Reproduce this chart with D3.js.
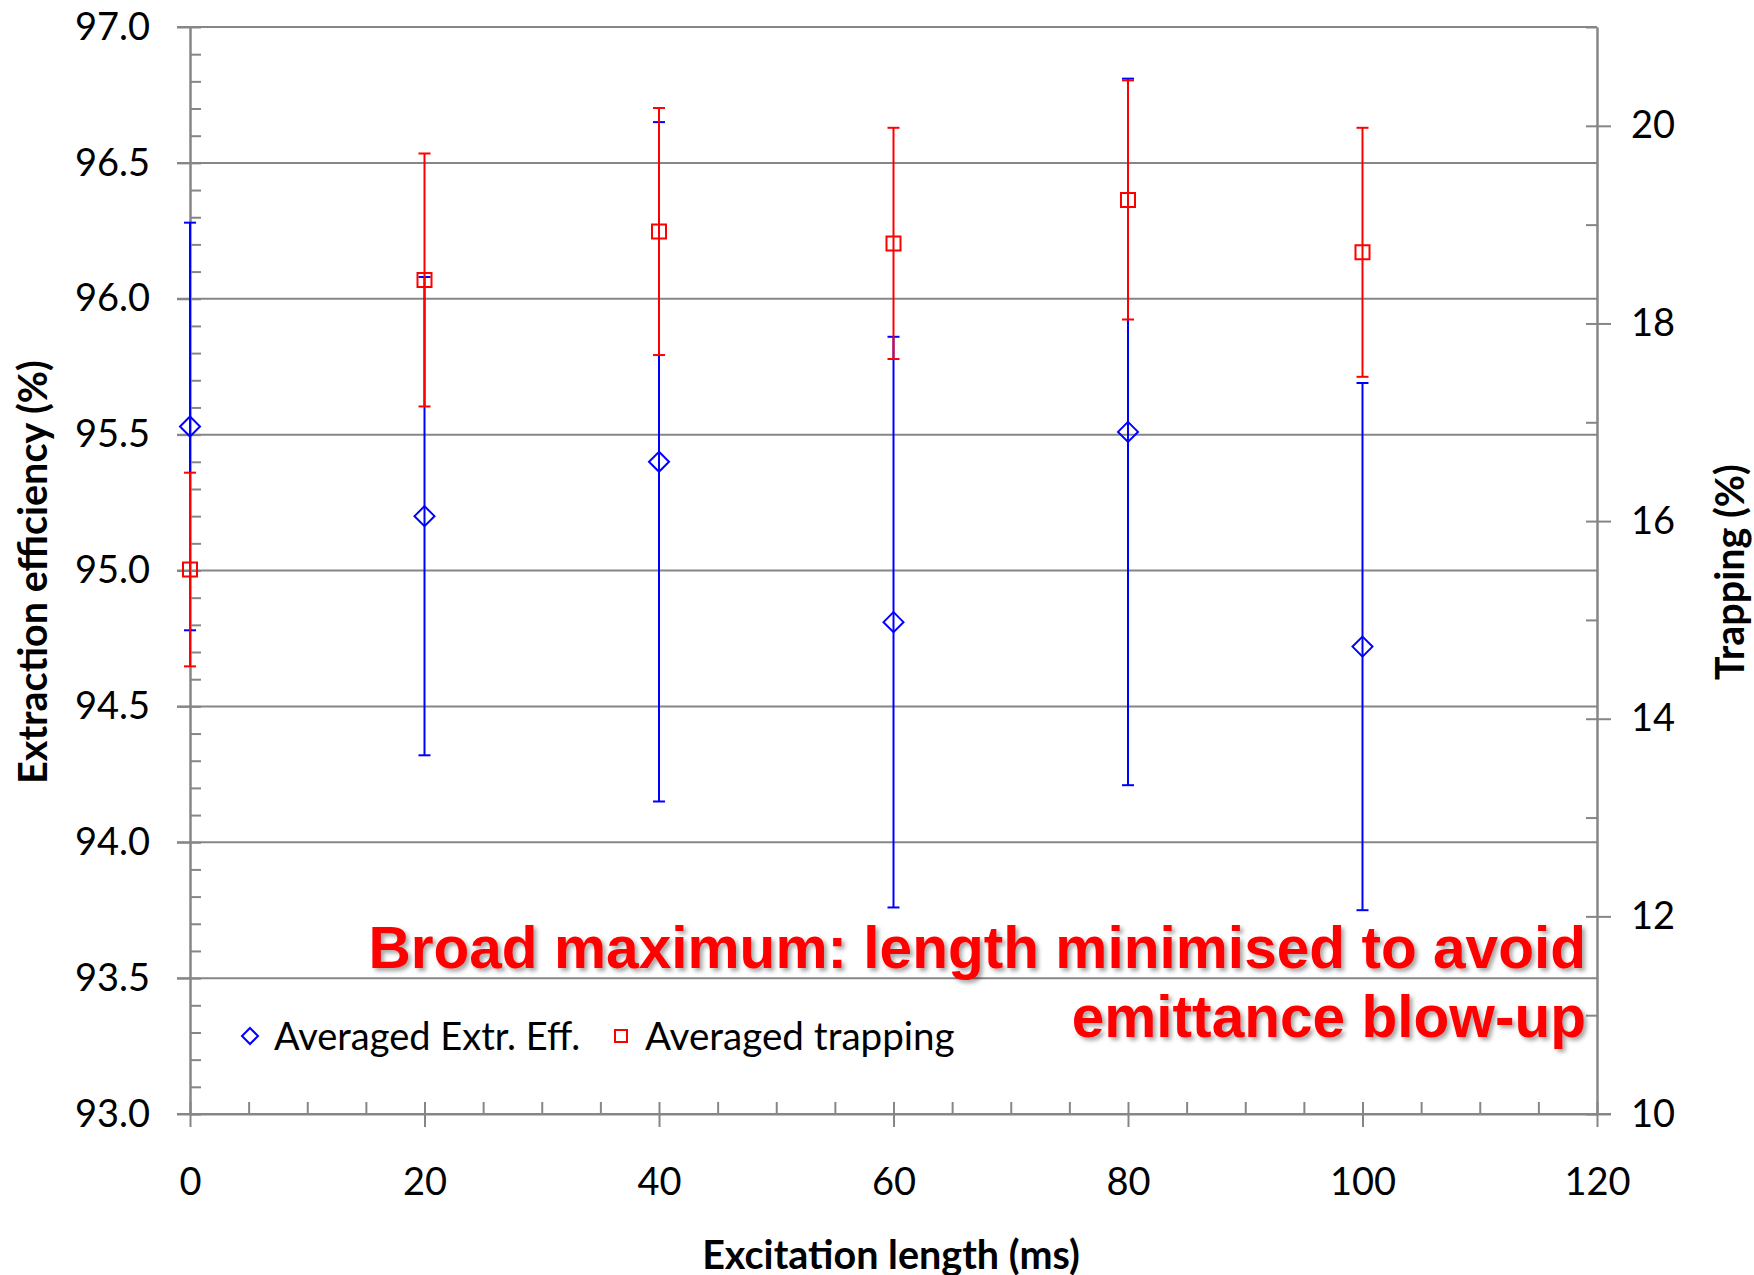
<!DOCTYPE html>
<html>
<head>
<meta charset="utf-8">
<script src="https://cdn.jsdelivr.net/npm/d3@7"></script>
<style>
  body { margin: 0; background: #fff; }
  svg text { font-family: Lato, "Open Sans", sans-serif; }
</style>
</head>
<body>
<div id="chart"></div>
<script>
// Data
const excitation = [0, 20, 40, 60, 80, 100];
const extrEff = [95.53, 95.20, 95.40, 94.81, 95.51, 94.72];
const extrErr = [0.75, 0.88, 1.25, 1.05, 1.30, 0.97];
const trapping = [15.51, 18.44, 18.93, 18.81, 19.25, 18.72];
const trapErr = [0.98, 1.28, 1.25, 1.17, 1.21, 1.26];

const leftTicks = [93.0, 93.5, 94.0, 94.5, 95.0, 95.5, 96.0, 96.5, 97.0];
const rightTicks = [10, 12, 14, 16, 18, 20];
const xTicks = [0, 20, 40, 60, 80, 100, 120];

const width = 1754, height = 1275;
const axisCol = '#868686';

const svg = d3.select('#chart').append('svg')
  .attr('width', width)
  .attr('height', height);

// drop shadow for the red note
const defs = svg.append('defs');
const f = defs.append('filter').attr('id', 'shadow')
  .attr('x', '-5%').attr('y', '-20%').attr('width', '110%').attr('height', '150%');
f.append('feDropShadow')
  .attr('dx', 3).attr('dy', 3).attr('stdDeviation', 2)
  .attr('flood-color', '#000').attr('flood-opacity', 0.35);

const x = d3.scaleLinear().domain([0, 120]).range([190, 1597]);
const yL = d3.scaleLinear().domain([93, 97]).range([1114, 27]);
const yR = d3.scaleLinear().domain([10, 21]).range([1114, 27]);

// gridlines
svg.append('g').selectAll('line')
  .data(leftTicks)
  .enter().append('line')
  .attr('x1', x(0) - 13).attr('x2', x(120))
  .attr('y1', d => yL(d)).attr('y2', d => yL(d))
  .attr('stroke', axisCol).attr('stroke-width', 2);

function styleAxis(g) {
  g.select('.domain').attr('stroke', axisCol).attr('stroke-width', 2);
  g.selectAll('.tick line').attr('stroke', axisCol).attr('stroke-width', 2);
  g.selectAll('text').attr('fill', '#000');
}

// left axis: minor ticks inside, labels outside
svg.append('g')
  .attr('transform', `translate(${x(0)},0)`)
  .call(d3.axisRight(yL).tickValues(d3.range(930, 971).map(d => d / 10)).tickSize(11).tickFormat('').tickSizeOuter(0))
  .call(styleAxis);
svg.append('g')
  .attr('transform', `translate(${x(0)},0)`)
  .call(d3.axisLeft(yL).tickValues(leftTicks).tickSize(13).tickPadding(27).tickFormat(d3.format('.1f')).tickSizeOuter(0))
  .call(styleAxis)
  .selectAll('text').attr('font-size', 38);

// right axis
svg.append('g')
  .attr('transform', `translate(${x(120)},0)`)
  .call(d3.axisLeft(yR).tickValues(d3.range(10, 22)).tickSize(11).tickFormat('').tickSizeOuter(0))
  .call(styleAxis);
svg.append('g')
  .attr('transform', `translate(${x(120)},0)`)
  .call(d3.axisRight(yR).tickValues(rightTicks).tickSize(14).tickPadding(20).tickSizeOuter(0))
  .call(styleAxis)
  .selectAll('text').attr('font-size', 38);

// bottom axis
svg.append('g')
  .attr('transform', `translate(0,${yL(93)})`)
  .call(d3.axisTop(x).tickValues(d3.range(0, 121, 5)).tickSize(12).tickFormat('').tickSizeOuter(0))
  .call(styleAxis);
const xg = svg.append('g')
  .attr('transform', `translate(0,${yL(93)})`)
  .call(d3.axisBottom(x).tickValues(xTicks).tickSize(13).tickSizeOuter(0))
  .call(styleAxis);
xg.select('.domain').attr('d', `M${x(0) - 13},0H${x(120) + 14}`);
xg.selectAll('text').attr('font-size', 38).attr('y', 68).attr('dy', '0.35em');

// axis titles
svg.append('text')
  .attr('transform', `translate(31,572) rotate(-90)`)
  .attr('text-anchor', 'middle').attr('dominant-baseline', 'central')
  .attr('font-size', 39.5).attr('font-weight', 'bold')
  .text('Extraction efficiency (%)');
svg.append('text')
  .attr('transform', `translate(1728,572) rotate(-90)`)
  .attr('text-anchor', 'middle').attr('dominant-baseline', 'central')
  .attr('font-size', 39.5).attr('font-weight', 'bold')
  .text('Trapping (%)');
svg.append('text')
  .attr('x', 891).attr('y', 1253)
  .attr('text-anchor', 'middle').attr('dominant-baseline', 'central')
  .attr('font-size', 39.5).attr('font-weight', 'bold')
  .text('Excitation length (ms)');

// error bars
function errorBars(vals, errs, scale, color) {
  const g = svg.append('g').attr('stroke', color).attr('stroke-width', 2);
  excitation.forEach((xv, i) => {
    const cx = x(xv), top = scale(vals[i] + errs[i]), bot = scale(vals[i] - errs[i]);
    g.append('line').attr('x1', cx).attr('x2', cx).attr('y1', top).attr('y2', bot);
    g.append('line').attr('x1', cx - 6).attr('x2', cx + 6).attr('y1', top).attr('y2', top);
    g.append('line').attr('x1', cx - 6).attr('x2', cx + 6).attr('y1', bot).attr('y2', bot);
  });
}

const diamond = 'M0,-10L10,0L0,10L-10,0Z';
const square = 'M-7,-7H7V7H-7Z';

errorBars(extrEff, extrErr, yL, '#0000ff');
svg.append('g').selectAll('path')
  .data(excitation)
  .enter().append('path')
  .attr('d', diamond)
  .attr('transform', (d, i) => `translate(${x(d)},${yL(extrEff[i])})`)
  .attr('fill', 'none').attr('stroke', '#0000ff').attr('stroke-width', 2);

errorBars(trapping, trapErr, yR, '#ff0000');
svg.append('g').selectAll('path')
  .data(excitation)
  .enter().append('path')
  .attr('d', square)
  .attr('transform', (d, i) => `translate(${x(d)},${yR(trapping[i])})`)
  .attr('fill', 'none').attr('stroke', '#ff0000').attr('stroke-width', 2);

// legend
const leg = svg.append('g');
leg.append('path').attr('d', 'M0,-8L8,0L0,8L-8,0Z')
  .attr('transform', 'translate(250,1036)')
  .attr('fill', 'none').attr('stroke', '#0000ff').attr('stroke-width', 2);
leg.append('text').attr('x', 274).attr('y', 1035).attr('dominant-baseline', 'central')
  .attr('font-size', 38).text('Averaged Extr. Eff.');
leg.append('path').attr('d', 'M-6,-6H6V6H-6Z')
  .attr('transform', 'translate(621,1036)')
  .attr('fill', 'none').attr('stroke', '#ff0000').attr('stroke-width', 2);
leg.append('text').attr('x', 645).attr('y', 1035).attr('dominant-baseline', 'central')
  .attr('font-size', 38.6).text('Averaged trapping');

// red note
const note = svg.append('g').attr('filter', 'url(#shadow)')
  .attr('fill', '#ff0000').attr('font-weight', 'bold').attr('font-size', 58.6)
  .attr('text-anchor', 'end');
note.append('text').attr('x', 1586).attr('y', 968)
  .style('font-family', '"Liberation Sans", Arial, sans-serif')
  .text('Broad maximum: length minimised to avoid');
note.append('text').attr('x', 1586).attr('y', 1037)
  .style('font-family', '"Liberation Sans", Arial, sans-serif')
  .text('emittance blow-up');
</script>
</body>
</html>
